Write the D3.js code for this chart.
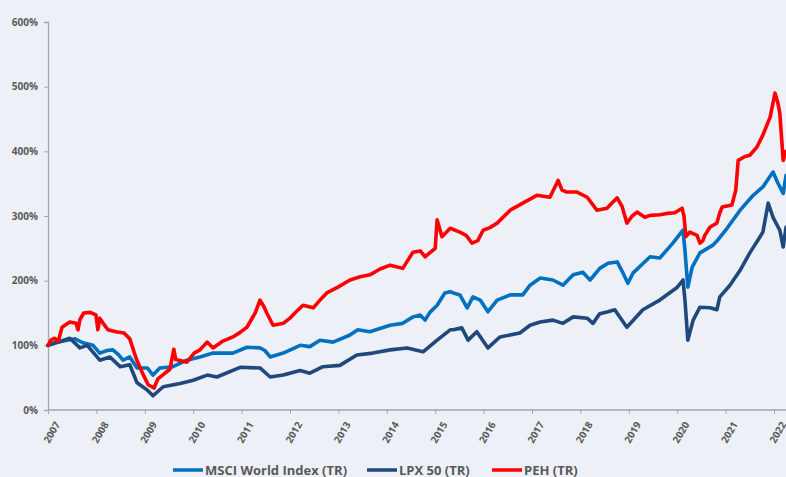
<!DOCTYPE html>
<html>
<head>
<meta charset="utf-8">
<script src="https://cdn.jsdelivr.net/npm/d3@7"></script>
<style>
  html, body { margin: 0; padding: 0; background: #EDF0F7; }
  svg { display: block; font-family: "Open Sans", "Liberation Sans", sans-serif; }
</style>
</head>
<body>
<div id="chart"></div>
<script>
// Performance indexed to 100% at start of 2007 (decimal year, value in %)
var seriesNames = ["MSCI World Index (TR)", "LPX 50 (TR)", "PEH (TR)"];
var seriesColours = ["#0070C0", "#1F497D", "#FF0000"];
var yearTicks = [2007, 2008, 2009, 2010, 2011, 2012, 2013, 2014, 2015, 2016, 2017, 2018, 2019, 2020, 2021, 2022];
var valueTicks = [0, 100, 200, 300, 400, 500, 600];

var msciData = [
  [2007.00,100],[2007.14,104],[2007.39,108],[2007.56,110],[2007.72,104],[2007.93,100],
  [2008.07,88],[2008.22,92],[2008.34,93],[2008.45,86],[2008.55,77],[2008.69,82],
  [2008.84,65],[2009.05,65],[2009.17,54],[2009.31,65],[2009.58,67],[2009.87,77],
  [2010.14,82],[2010.41,88],[2010.82,88],[2011.11,97],[2011.38,96],[2011.48,92],
  [2011.59,82],[2011.86,88],[2012.21,100],[2012.41,98],[2012.62,108],[2012.89,105],
  [2013.24,116],[2013.40,124],[2013.65,121],[2014.07,131],[2014.33,134],[2014.54,144],
  [2014.69,147],[2014.79,139],[2014.89,151],[2015.04,162],[2015.20,181],[2015.31,183],
  [2015.41,180],[2015.51,178],[2015.66,158],[2015.78,175],[2015.93,170],[2016.09,152],
  [2016.28,170],[2016.55,178],[2016.81,178],[2016.96,193],[2017.17,204],[2017.43,201],
  [2017.64,193],[2017.85,209],[2018.05,213],[2018.20,201],[2018.40,219],[2018.57,227],
  [2018.76,229],[2018.88,212],[2018.98,196],[2019.09,212],[2019.44,237],[2019.64,235],
  [2019.91,258],[2020.12,278],[2020.16,247],[2020.22,190],[2020.31,221],[2020.47,243],
  [2020.74,255],[2020.84,263],[2021.03,281],[2021.30,309],[2021.57,332],[2021.77,345],
  [2021.98,368],[2022.08,351],[2022.19,335],[2022.25,363]
];

var lpxData = [
  [2007.00,100],[2007.25,106],[2007.45,111],[2007.66,96],[2007.81,100],[2008.07,77],
  [2008.28,82],[2008.49,67],[2008.69,70],[2008.84,42],[2009.05,31],[2009.17,22],
  [2009.38,36],[2009.73,41],[2010.00,46],[2010.29,54],[2010.49,51],[2010.97,66],
  [2011.38,65],[2011.59,51],[2011.86,54],[2012.21,61],[2012.41,57],[2012.68,67],
  [2013.03,69],[2013.38,85],[2013.71,88],[2014.07,93],[2014.42,96],[2014.75,90],
  [2015.04,108],[2015.31,124],[2015.37,124],[2015.55,127],[2015.68,108],[2015.86,121],
  [2016.09,96],[2016.34,113],[2016.75,119],[2016.96,131],[2017.17,136],[2017.43,139],
  [2017.64,134],[2017.85,144],[2018.14,142],[2018.26,134],[2018.40,149],[2018.57,152],
  [2018.71,155],[2018.96,128],[2019.29,155],[2019.64,170],[2019.99,189],[2020.12,201],
  [2020.16,170],[2020.22,108],[2020.33,139],[2020.47,159],[2020.68,158],[2020.82,155],
  [2020.88,175],[2021.09,193],[2021.30,216],[2021.50,243],[2021.67,263],[2021.77,275],
  [2021.88,320],[2021.98,298],[2022.12,278],[2022.19,252],[2022.25,283]
];

var pehData = [
  [2007.00,100],[2007.06,108],[2007.14,111],[2007.21,106],[2007.29,128],[2007.45,136],
  [2007.58,134],[2007.62,124],[2007.66,140],[2007.74,150],[2007.87,151],[2007.99,147],
  [2008.03,124],[2008.07,142],[2008.16,132],[2008.24,124],[2008.40,121],[2008.57,119],
  [2008.69,110],[2008.82,80],[2008.94,59],[2009.07,39],[2009.19,34],[2009.27,48],
  [2009.40,56],[2009.52,63],[2009.60,94],[2009.64,78],[2009.75,76],[2009.87,74],
  [2010.02,88],[2010.14,93],[2010.29,105],[2010.41,96],[2010.60,106],[2010.82,113],
  [2010.97,120],[2011.11,128],[2011.28,150],[2011.38,170],[2011.46,160],[2011.52,150],
  [2011.65,131],[2011.86,134],[2012.00,142],[2012.10,150],[2012.27,162],[2012.48,158],
  [2012.62,170],[2012.76,181],[2012.99,190],[2013.24,201],[2013.45,206],[2013.65,209],
  [2013.86,218],[2014.07,224],[2014.33,219],[2014.54,244],[2014.69,246],[2014.79,237],
  [2015.00,250],[2015.04,294],[2015.14,268],[2015.31,281],[2015.51,275],[2015.64,270],
  [2015.76,258],[2015.88,262],[2015.99,278],[2016.13,282],[2016.28,289],[2016.55,309],
  [2016.81,320],[2017.10,332],[2017.37,329],[2017.54,355],[2017.62,340],[2017.72,337],
  [2017.93,337],[2018.14,329],[2018.34,309],[2018.55,312],[2018.65,320],[2018.76,328],
  [2018.86,315],[2018.96,289],[2019.07,300],[2019.17,306],[2019.33,298],[2019.44,301],
  [2019.64,302],[2019.79,304],[2019.95,305],[2020.10,312],[2020.14,300],[2020.18,268],
  [2020.26,275],[2020.41,270],[2020.47,258],[2020.53,262],[2020.57,270],[2020.68,283],
  [2020.82,289],[2020.88,305],[2020.93,314],[2021.13,317],[2021.21,340],[2021.26,386],
  [2021.40,392],[2021.50,394],[2021.65,407],[2021.77,425],[2021.92,453],[2022.02,490],
  [2022.08,475],[2022.12,459],[2022.19,386],[2022.25,400]
];

var allSeries = [msciData, lpxData, pehData];

var svgWidth = 786, svgHeight = 477;
var svg = d3.select("#chart").append("svg")
  .attr("width", svgWidth).attr("height", svgHeight);

svg.append("rect").attr("width", svgWidth).attr("height", svgHeight).attr("fill", "#EDF0F7");

// scales - 2007 sits on the y axis, 2022 near right edge
var x = d3.scaleLinear().domain([2007, 2022]).range([48, 774]);
var y = d3.scaleLinear().domain([0, 600]).range([410, 22]);

var axisGrey = "#A6A6A6";
var textGrey = "#595959";

// y axis
var yAxis = svg.append("g")
  .attr("transform", "translate(48,0)")
  .call(d3.axisLeft(y).tickValues(valueTicks).tickSize(4).tickPadding(6).tickFormat(function (d) { return d + "%"; }));
yAxis.select(".domain").attr("stroke", axisGrey).attr("stroke-width", 1.3);
yAxis.selectAll(".tick line").attr("stroke", axisGrey);
yAxis.selectAll("text")
  .attr("fill", textGrey).attr("font-size", "10px").attr("font-weight", 700)
  .attr("font-family", "'Open Sans', sans-serif");

// x axis
var xAxis = svg.append("g")
  .attr("transform", "translate(0,410)")
  .call(d3.axisBottom(x).tickValues(yearTicks).tickSize(4).tickFormat(d3.format("d")).tickSizeOuter(0));
xAxis.select(".domain").attr("stroke", axisGrey).attr("stroke-width", 1.3)
  .attr("d", "M48,0H" + svgWidth);
xAxis.selectAll(".tick line").attr("stroke", axisGrey);
xAxis.selectAll("text")
  .attr("fill", textGrey).attr("font-size", "10px").attr("font-weight", 700)
  .attr("font-family", "'Open Sans', sans-serif")
  .attr("text-anchor", "end")
  .attr("dy", "0.35em")
  .attr("transform", "translate(3,9) rotate(-60)");

// lines
var line = d3.line()
  .x(function (d) { return x(d[0]); })
  .y(function (d) { return y(d[1]); })
  .curve(d3.curveLinear);

for (var i = 0; i < allSeries.length; i++) {
  svg.append("path")
    .datum(allSeries[i])
    .attr("fill", "none")
    .attr("stroke", seriesColours[i])
    .attr("stroke-width", 3.6)
    .attr("stroke-linejoin", "round")
    .attr("stroke-linecap", "round")
    .attr("d", line);
}

// legend
var legendX = [173, 367, 492];
var legend = svg.append("g");
for (var k = 0; k < seriesNames.length; k++) {
  legend.append("line")
    .attr("x1", legendX[k]).attr("x2", legendX[k] + 30)
    .attr("y1", 470).attr("y2", 470)
    .attr("stroke", seriesColours[k]).attr("stroke-width", 3.5);
  legend.append("text")
    .attr("x", legendX[k] + 32).attr("y", 470)
    .attr("dy", "0.36em")
    .attr("fill", textGrey).attr("font-size", "13px").attr("font-weight", 700)
    .text(seriesNames[k]);
}
</script>
</body>
</html>
